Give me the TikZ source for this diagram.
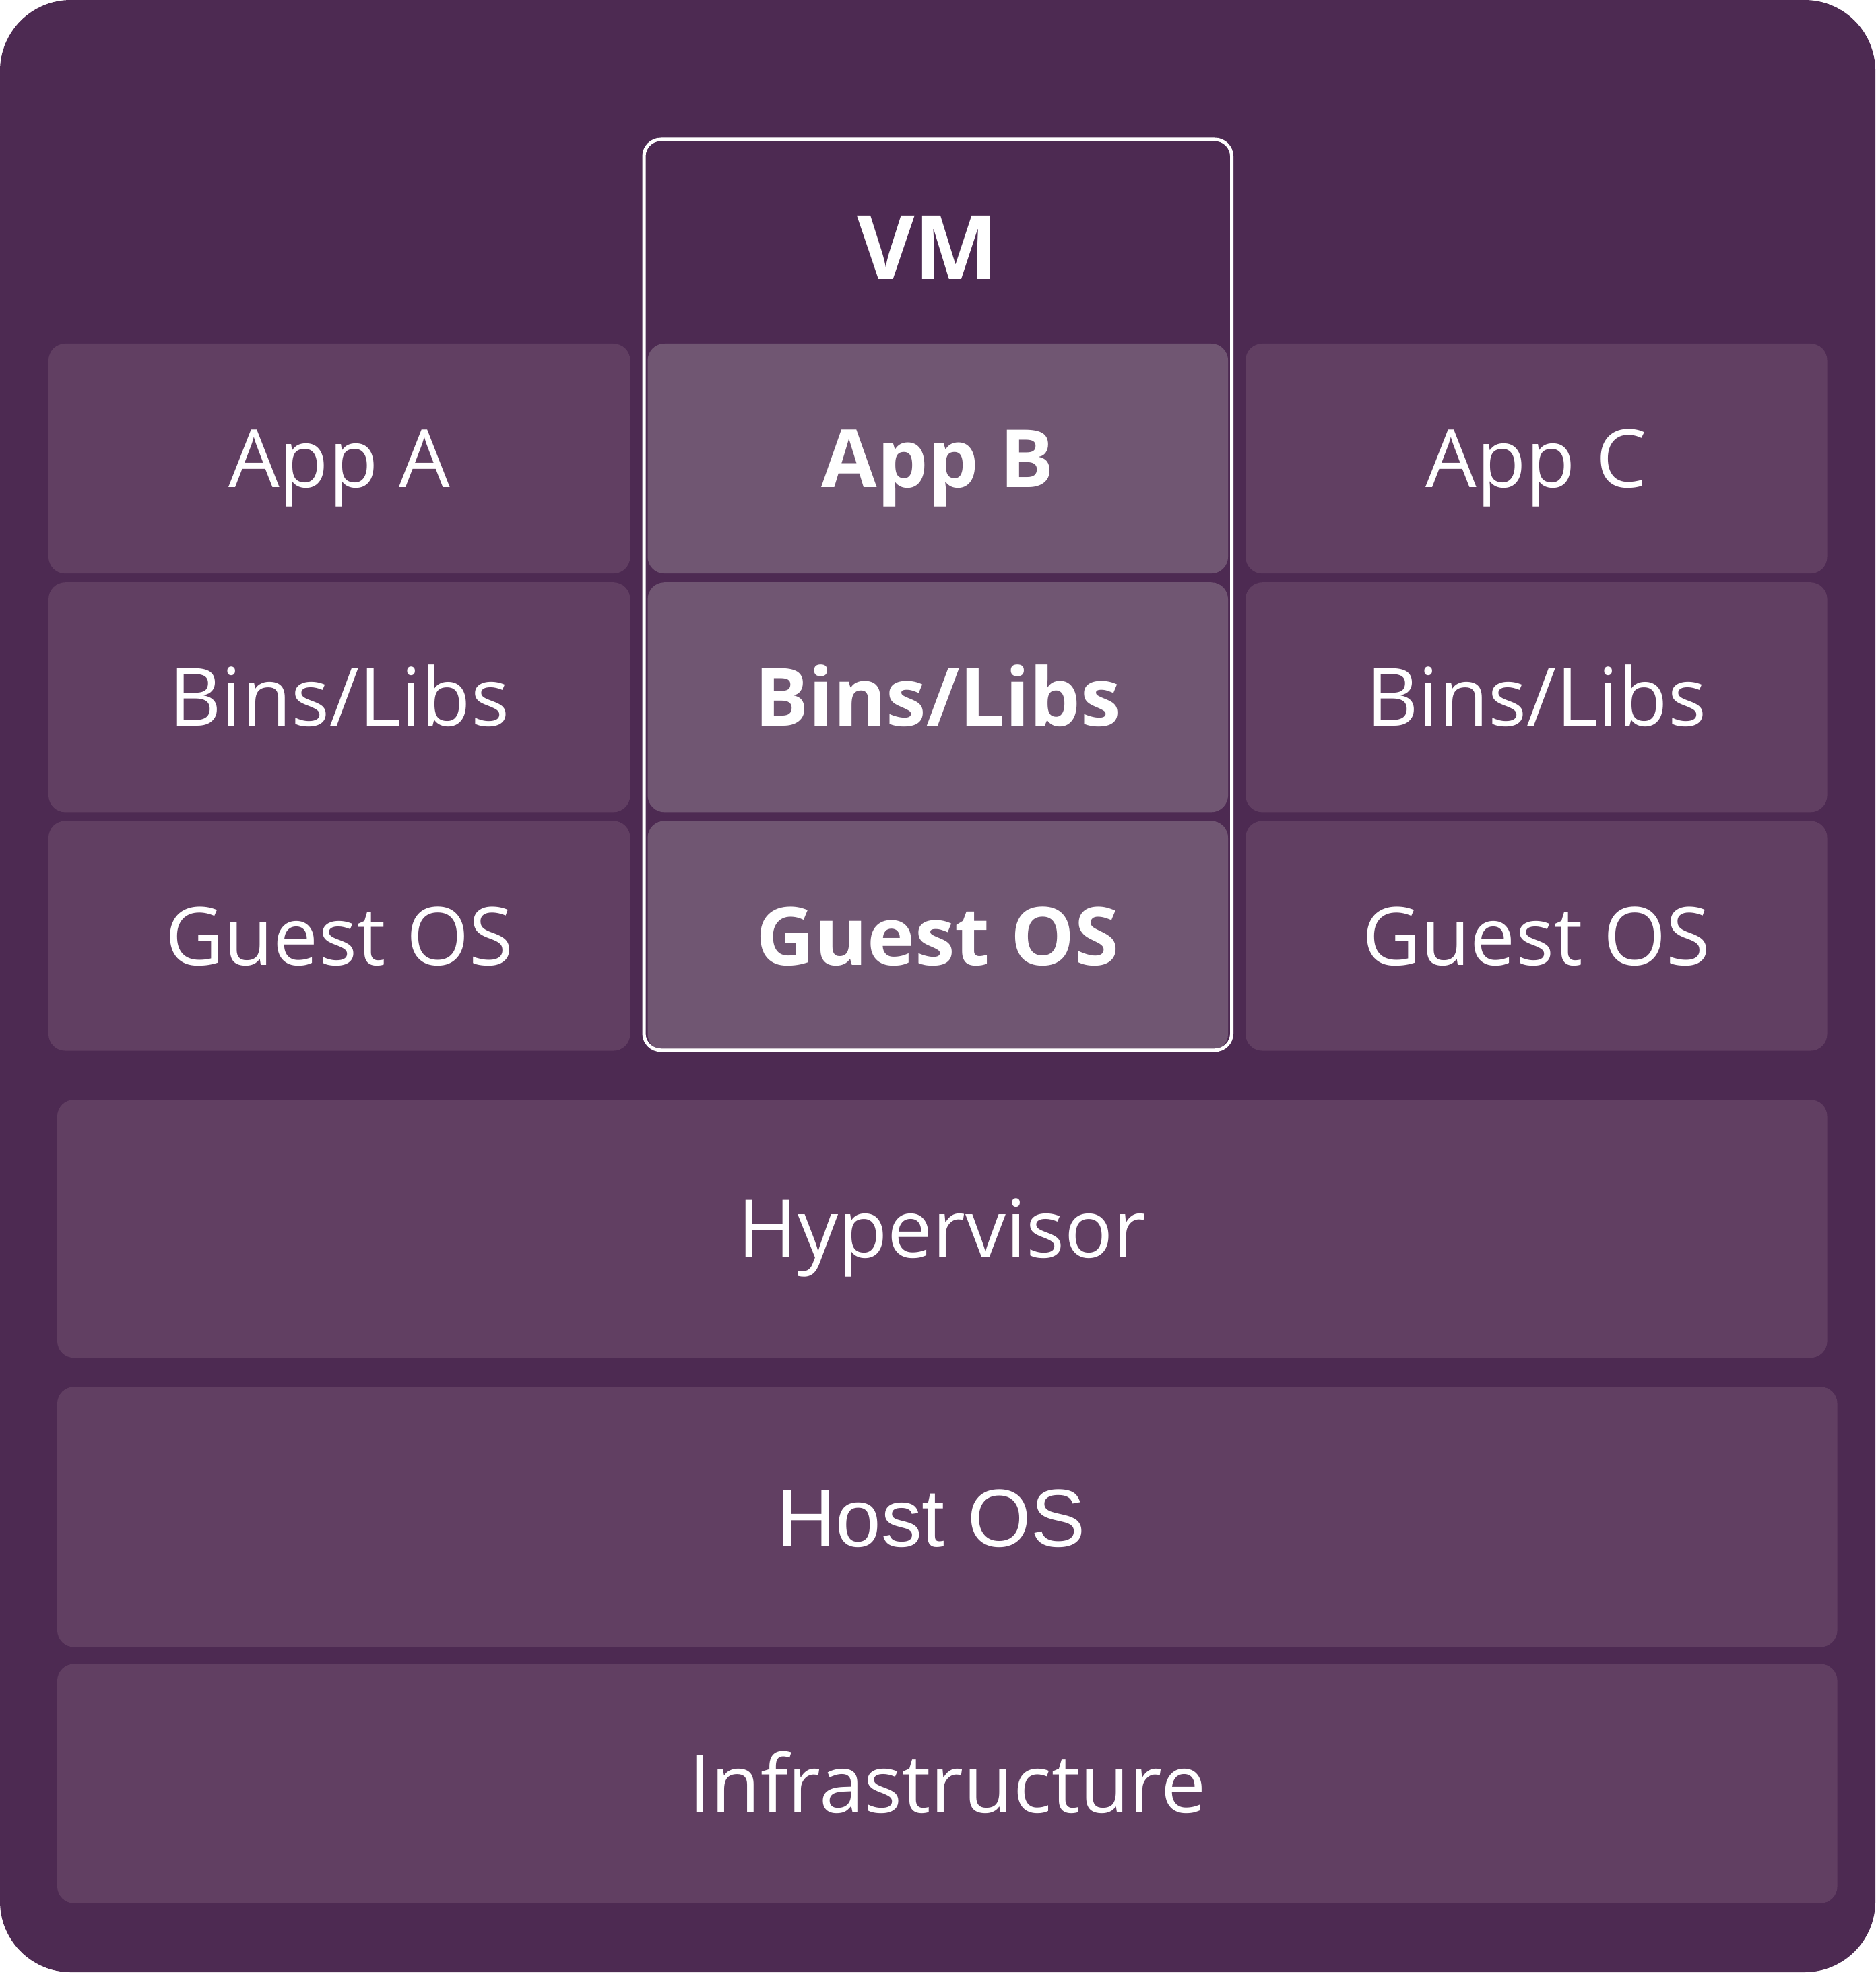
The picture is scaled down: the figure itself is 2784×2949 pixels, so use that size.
\documentclass[tikz,border=0pt]{standalone}
\usepackage{fontspec}
\setmainfont{Open Sans}
\IfFontExistsTF{Open Sans SemiBold}{\newfontfamily\semifont{Open Sans SemiBold}}{\newcommand\semifont{\bfseries}}
\newfontfamily\hostfont{Liberation Sans}
\usetikzlibrary{positioning}

\definecolor{vmbg}{RGB}{77,42,82}
\definecolor{vmbox}{RGB}{97,63,98}
\definecolor{vmlight}{RGB}{112,86,114}

\begin{document}
\begin{tikzpicture}[x=0.01cm,y=-0.01cm,node distance=0.13cm and 0.26cm,
    every node/.style={inner sep=0pt,outer sep=0pt},
    layer/.style={fill=vmbox,rounded corners=0.25cm,text=white,
      font=\fontsize{34}{40}\selectfont,text height=0.86cm,text depth=0pt,
      minimum width=8.63cm,minimum height=3.41cm},
    guest/.style={layer,fill=vmlight,font=\semifont\fontsize{34}{40}\selectfont,
      minimum width=8.61cm},
    base/.style={layer,minimum width=26.41cm},
    vmframe/.style={draw=white,line width=0.05cm,rounded corners=0.25cm,
      minimum width=8.72cm,minimum height=13.51cm}]
    \useasboundingbox (0,0) rectangle (2784,2949);
    \fill[white] (0,0) rectangle (2784,2949);
    \fill[vmbg,rounded corners=1.05cm] (0,0) rectangle (2784,2927);

    % three stacks
    \node[layer,anchor=north west] (appA) at (72,510) {App A};
    \node[guest] (appB) [right=of appA] {App B};
    \node[layer] (appC) [right=of appB] {App C};
    \node[layer] (binsA) [below=of appA] {Bins/Libs};
    \node[guest] (binsB) [below=of appB] {Bins/Libs};
    \node[layer] (binsC) [below=of appC] {Bins/Libs};
    \node[layer] (osA) [below=of binsA] {Guest OS};
    \node[guest] (osB) [below=of binsB] {Guest OS};
    \node[layer] (osC) [below=of binsC] {Guest OS};

    % shared layers
    \node[base,anchor=north west,minimum width=26.26cm,minimum height=3.83cm] (hyper) at (85,1632) {Hypervisor};
    \node[base,minimum height=3.86cm,font=\hostfont\fontsize{34.5}{42}\selectfont,text height=0.88cm]
      (host) [below=0.43cm of hyper.south west,anchor=north west] {Host OS\kern0.48cm};
    \node[base,minimum height=3.55cm] (infra) [below=0.25cm of host.south west,anchor=north west] {Infrastructure};

    % the VM frame
    \node[vmframe,anchor=north west] (vm) at (956,207) {};
    \node[text=white,font=\semifont\fontsize{37.5}{44}\selectfont,text height=0.96cm,text depth=0pt,
      xshift=-0.15cm] (vmlabel) [below=1.11cm of vm.north] {VM};
\end{tikzpicture}
\end{document}
